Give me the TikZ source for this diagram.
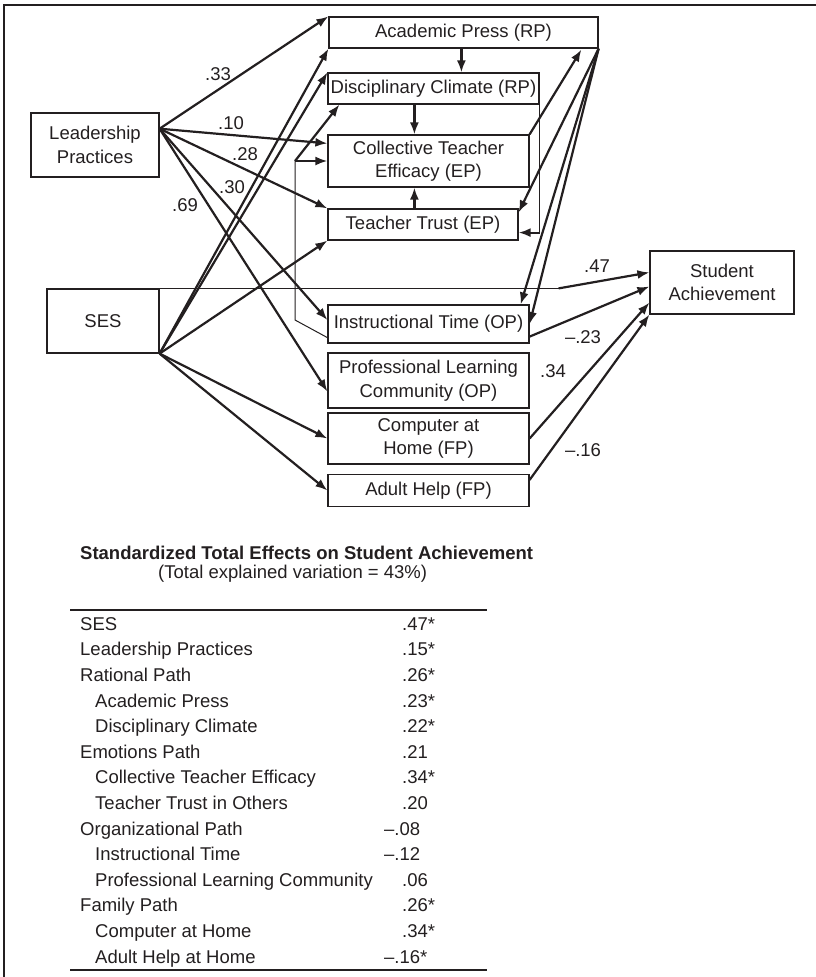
\documentclass[tikz,border=0pt]{standalone}
\usepackage{fontspec}
\setmainfont{Liberation Sans}
\usetikzlibrary{arrows.meta,calc}
\definecolor{ink}{HTML}{231F20}
\begin{document}
\begin{tikzpicture}[x=1pt,y=-1pt,
  font=\fontsize{18.5}{23.5}\selectfont,
  box/.style={draw=ink, line width=1.2pt, inner sep=0pt, align=center, text=ink},
  arr/.style={draw=ink, line width=2.2pt, -{Latex[length=12pt,width=9pt]}},
  thinline/.style={draw=ink, line width=1pt},
  lab/.style={inner sep=0pt, text=ink},
  row/.style={anchor=base west, inner sep=0pt, text=ink}]
\useasboundingbox (0,0) rectangle (816,977);
% frame
\draw[ink, line width=1.2pt] (4,977) -- (4,5) -- (816,5);
% boxes
\node[box, minimum width=128pt, minimum height=64pt] (LP) at (95,145) {Leadership\\Practices};
\node[box, minimum width=112pt, minimum height=64pt] (SES) at (103,321) {SES};
\node[box, minimum width=269pt, minimum height=31pt] (AP) at (463.5,32.5) {Academic Press (RP)};
\node[box, minimum width=211pt, minimum height=31pt] (DC) at (433.5,88.5) {Disciplinary Climate (RP)};
\node[box, minimum width=201pt, minimum height=52pt] (CTE) at (428.5,161) {Collective Teacher\\Efficacy (EP)};
\node[box, minimum width=190pt, minimum height=31pt] (TT) at (423,224.5) {Teacher Trust (EP)};
\node[box, minimum width=201pt, minimum height=38pt] (IT) at (428.5,324) {Instructional Time (OP)};
\node[box, minimum width=201pt, minimum height=55pt] (PLC) at (428.5,380.5) {Professional Learning\\Community (OP)};
\node[box, minimum width=201pt, minimum height=51pt] (CaH) at (428.5,438.5) {Computer at\\Home (FP)};
\node[box, minimum width=201pt, minimum height=32pt] (AH) at (428.5,490.5) {Adult Help (FP)};
\node[box, minimum width=144pt, minimum height=63pt] (SA) at (722,282.5) {Student\\Achievement};
% origins
\coordinate (lpo) at ($(LP.north east)!0.25!(LP.south east)$);
% leadership arrows
\draw[arr] (lpo) -- (AP.north west);
\draw[arr] (lpo) -- ($(CTE.north west)+(0,9)$);
\draw[arr] (lpo) -- (TT.north west);
\draw[arr] (lpo) -- ($(IT.west)+(0,-4)$);
\draw[arr] (lpo) -- ($(PLC.west)+(0,11)$);
% SES arrows
\draw[arr] (SES.south east) -- (AP.south west);
\draw[arr] (SES.south east) -- (DC.north west);
\draw[arr] (SES.south east) -- (TT.south west);
\draw[arr] (SES.south east) -- (CaH.west);
\draw[arr] (SES.south east) -- (AH.west);
% bracket from instructional time
\coordinate (bb) at (295,320);
\coordinate (bt) at (295,161);
\draw[thinline] ($(IT.south west)+(0,-6)$) -- (bb) -- (bt);
\draw[arr] (bt) -- (CTE.west);
\draw[arr] (bt) -- ($(DC.south west)+(12,0)$);
% vertical arrows
\draw[arr] ($(AP.south west)+(133,0)$) -- ($(DC.north west)+(134,0)$);
\draw[arr] ($(DC.south west)+(87,0)$) -- ($(CTE.north west)+(87,0)$);
\draw[arr] ($(TT.north west)+(87,0)$) -- ($(CTE.south west)+(87,0)$);
% DC -> TT
\coordinate (dcb) at ($(DC.south east)+(0,128)$);
\draw[thinline] (DC.south east) -- (dcb);
\draw[arr] (dcb) -- (dcb -| TT.east);
% right side
\draw[arr] (CTE.north east) -- ($(AP.south west)+(253,1)$);
\draw[arr] (AP.south east) -- ($(TT.north east)+(0,4)$);
\draw[arr] (AP.south east) -- ($(IT.north east)+(-9,0)$);
\draw[arr] (AP.south east) -- (IT.east);
% to student achievement
\coordinate (sesm) at ($(SES.north east)+(399,0)$);
\draw[thinline] (SES.north east) -- (sesm);
\draw[arr] (sesm) -- ($(SA.north west)+(0,22)$);
\draw[arr] ($(IT.south east)+(0,-7)$) -- ($(SA.west)+(0,4)$);
\draw[arr] (CaH.east) -- ($(SA.south west)+(0,-12)$);
\draw[arr] ($(AH.north east)+(0,6)$) -- (SA.south west);
% labels
\node[lab] (l33) at (218,74) {.33};
\node[lab] (l10) at (231,123) {.10};
\node[lab] (l28) at (245,154) {.28};
\node[lab] (l30) at (232,187) {.30};
\node[lab] (l69) at (185,205) {.69};
\node[lab] (l47) at (597,266) {.47};
\node[lab] (l23) at (583,337) {–.23};
\node[lab] (l34) at (553,371) {.34};
\node[lab] (l16) at (583,450) {–.16};
% table
\node[row, font=\fontsize{18.5}{22}\selectfont\bfseries] (ttl) at (80,559.6) {Standardized Total Effects on Student Achievement};
\node[row] (tsub) at (158,578.6) {(Total explained variation = 43\%)};
\draw[ink, line width=1.2pt] (70,610) -- (487,610);
\foreach \lbl/\lx/\val/\vx [count=\i from 0] in {
 SES/80/.47*/402,
 Leadership Practices/80/.15*/402,
 Rational Path/80/.26*/402,
 Academic Press/95/.23*/402,
 Disciplinary Climate/95/.22*/402,
 Emotions Path/80/.21/402,
 Collective Teacher Efficacy/95/.34*/402,
 Teacher Trust in Others/95/.20/402,
 Organizational Path/80/–.08/384,
 Instructional Time/95/–.12/384,
 Professional Learning Community/95/.06/402,
 Family Path/80/.26*/402,
 Computer at Home/95/.34*/402,
 Adult Help at Home/95/–.16*/384}
{
 \node[row] (r\i) at (\lx,630.3+25.6*\i) {\lbl};
 \node[row] (v\i) at (\vx,630.3+25.6*\i) {\val};
}
\draw[ink, line width=1.2pt] (70,970) -- (487,970);
\end{tikzpicture}
\end{document}
